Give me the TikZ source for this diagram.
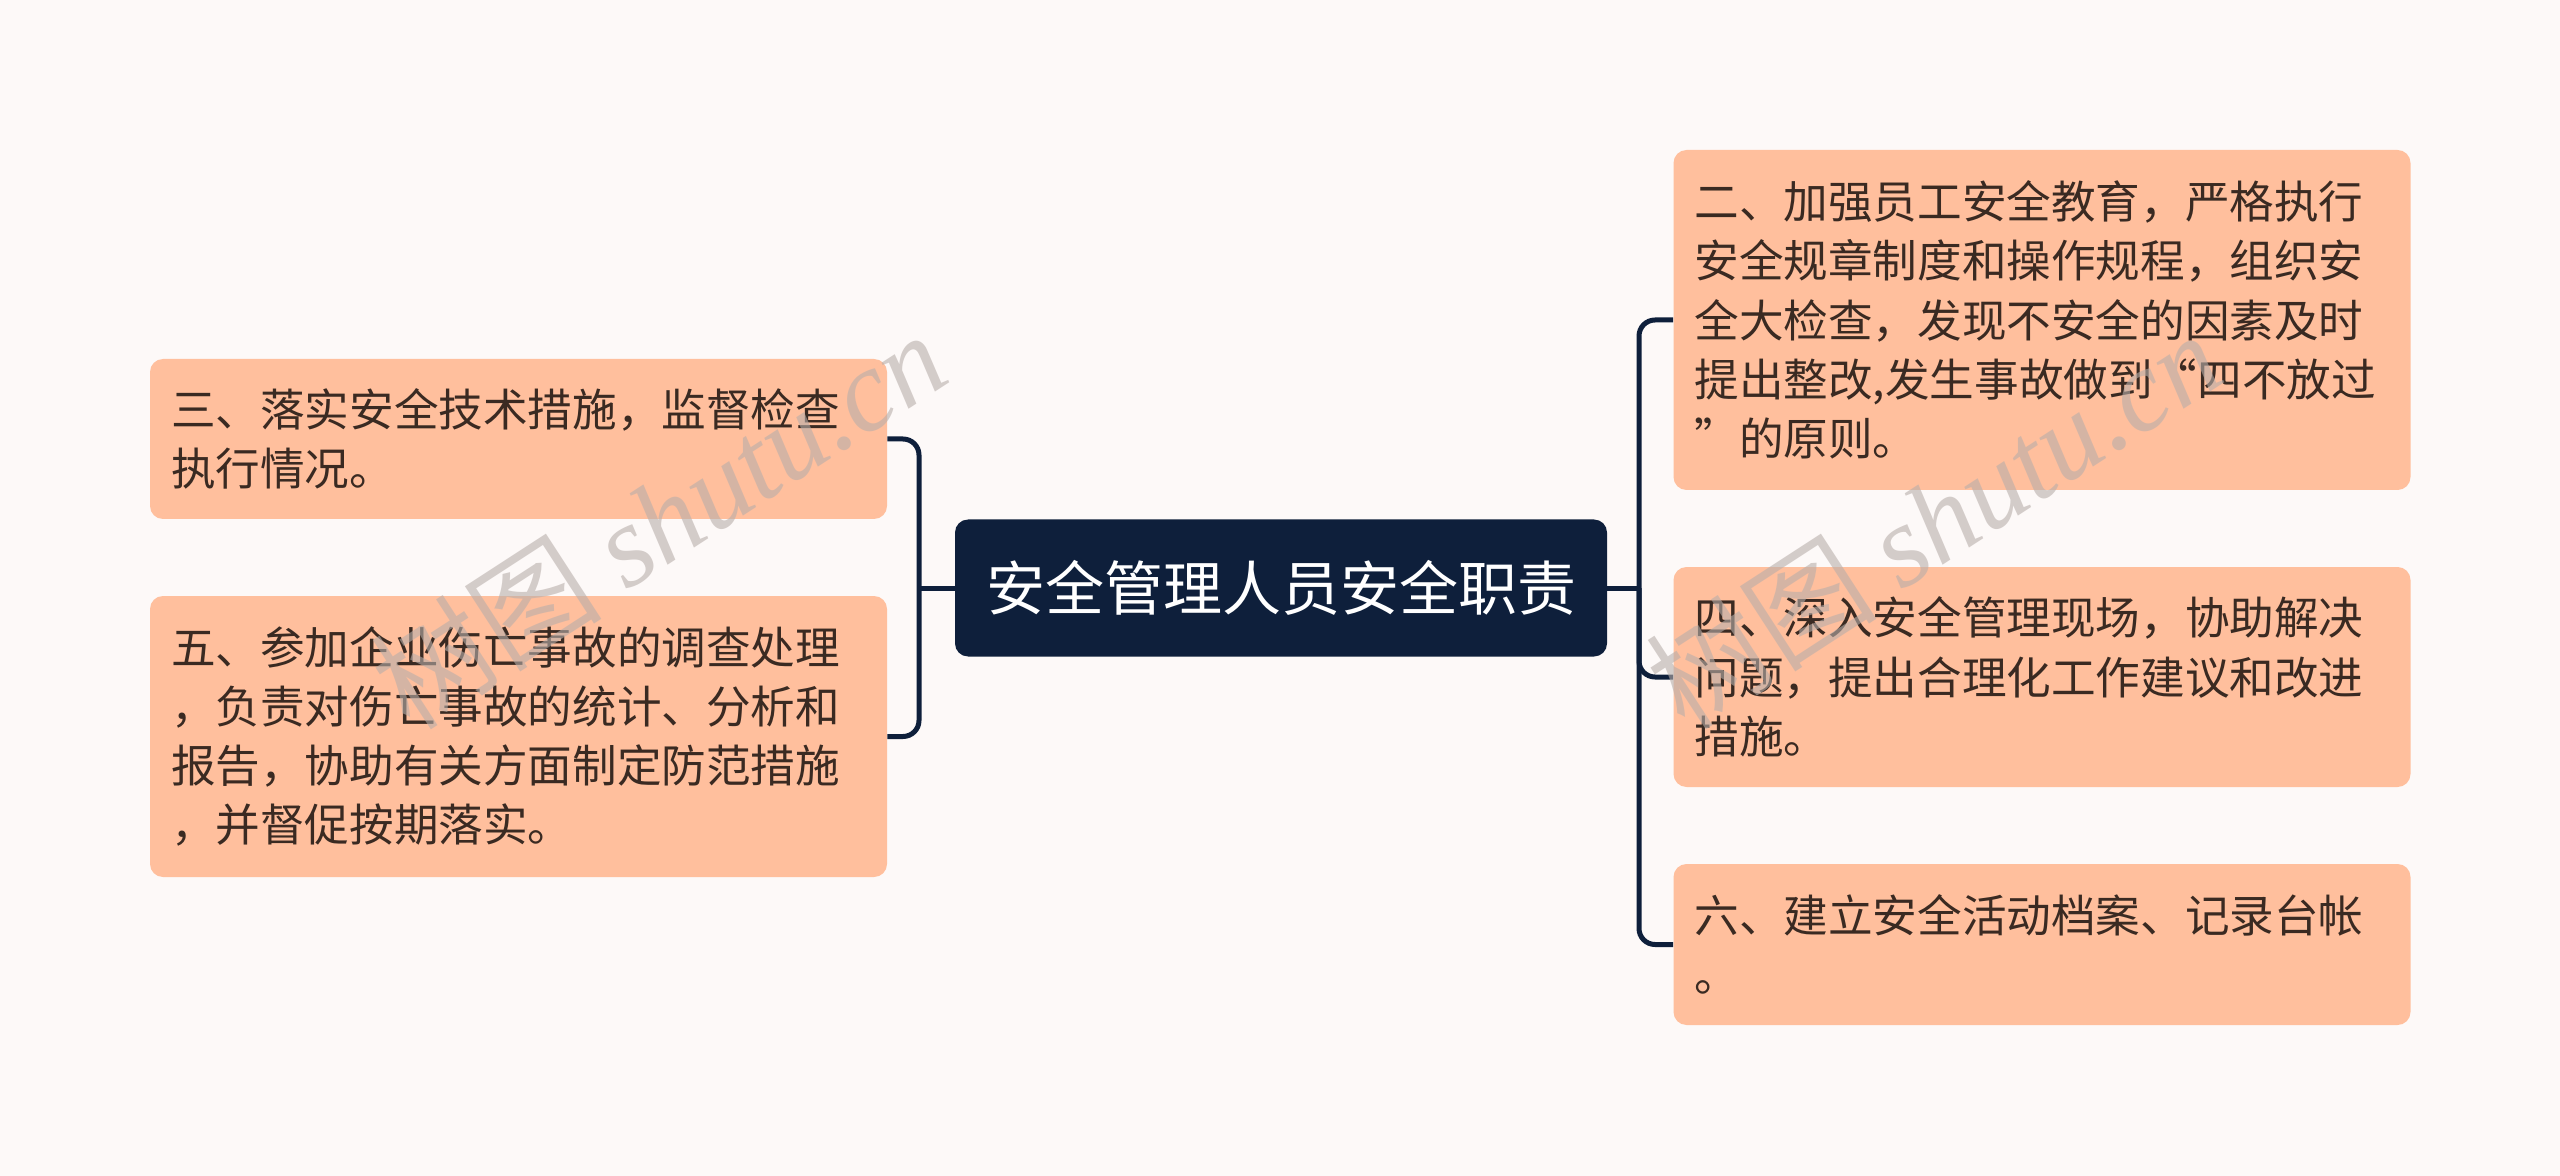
\documentclass[tikz,border=0pt]{standalone}
\usepackage{fontspec}
\setmainfont{Noto Sans CJK SC}
\newfontfamily\wmserif{Liberation Serif}
\definecolor{bg}{HTML}{FDF9F8}
\definecolor{peach}{HTML}{FFBF9D}
\definecolor{navy}{HTML}{0E1F3B}
\definecolor{txt}{HTML}{3A2A22}
\definecolor{wm}{HTML}{B8AEAA}
\begin{document}
\begin{tikzpicture}[x=0.5pt,y=-0.5pt,
  leaf/.style={fill=peach, rounded corners=6.5pt, text=txt, align=left,
    text width=347.5pt, inner xsep=10.5pt, inner ysep=0pt,
    font=\fontsize{22.3pt}{29.6pt}\selectfont},
  root/.style={fill=navy, rounded corners=6.5pt, text=white,
    minimum width=326pt, minimum height=68.5pt, inner sep=0pt,
    font=\fontsize{29.5pt}{36pt}\selectfont},
  conn/.style={draw=navy, line width=2.5pt, rounded corners=8pt},
  wmark/.style={text=wm, opacity=0.6, rotate=33, inner sep=0pt}]
\fill[bg] (0,0) rectangle (2560,1176);
\useasboundingbox (0,0) rectangle (2560,1176);

\node[root] (c) at (1281,588) {安全管理人员安全职责};

\node[leaf, minimum height=80pt] (l1) at (518.5,439)
  {三、落实安全技术措施，监督检查\\执行情况。};
\node[leaf, minimum height=140.5pt] (l2) at (518.5,736.5)
  {五、参加企业伤亡事故的调查处理\\，负责对伤亡事故的统计、分析和\\报告，协助有关方面制定防范措施\\，并督促按期落实。};

\node[leaf, minimum height=170pt] (r1) at (2042,320)
  {二、加强员工安全教育，严格执行\\安全规章制度和操作规程，组织安\\全大检查，发现不安全的因素及时\\提出整改,发生事故做到“四不放过\\”的原则。};
\node[leaf, minimum height=110pt] (r2) at (2042,677)
  {四、深入安全管理现场，协助解决\\问题，提出合理化工作建议和改进\\措施。};
\node[leaf, minimum height=80.5pt] (r3) at (2042,944.5)
  {六、建立安全活动档案、记录台帐\\。};

\coordinate (lj) at (919,588);
\coordinate (rj) at (1639,588);
\draw[conn] (c.west) -- (lj);
\draw[conn] (l1.east) -| (lj) |- (l2.east);
\draw[conn] (c.east) -- (rj);
\draw[conn] (r1.west) -| (rj) |- (r3.west);
\draw[conn] (rj) |- (r2.west);

\node[wmark] (w1) at (658,519) {\fontsize{58pt}{60pt}\selectfont 树图 {\wmserif\itshape shutu.cn}};
\node[wmark] (w2) at (1933,519) {\fontsize{58pt}{60pt}\selectfont 树图 {\wmserif\itshape shutu.cn}};
\end{tikzpicture}
\end{document}
